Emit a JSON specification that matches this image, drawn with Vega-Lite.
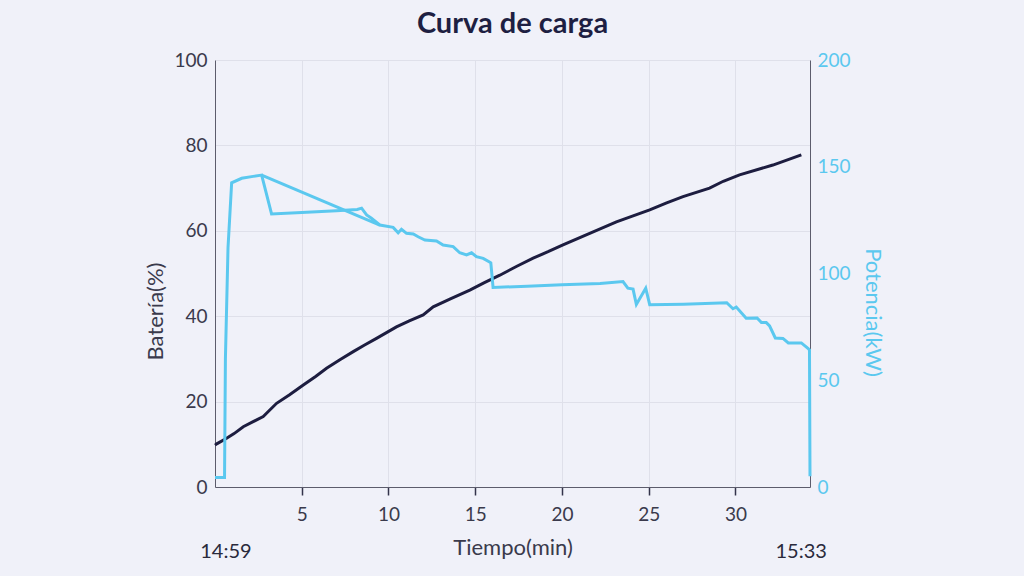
{
  "$schema": "https://vega.github.io/schema/vega-lite/v6.json",
  "width": 595,
  "height": 427,
  "autosize": "none",
  "padding": {"left": 215, "top": 60, "right": 214, "bottom": 89},
  "background": "#f0f1f9",
  "title": {"text": "Curva de carga", "font": "Lato", "fontSize": 29, "fontWeight": "bold", "color": "#1e1f42", "anchor": "middle", "baseline": "alphabetic", "offset": -11},
  "config": {
    "view": {"stroke": null},
    "axis": {"labelFont": "Lato", "titleFont": "Lato", "labelFontSize": 19, "titleFontSize": 22, "titleFontWeight": "normal", "gridColor": "#dfe0ea", "domainColor": "#5c5c6c", "labelColor": "#3a3a4c", "titleColor": "#3a3a4c"}
  },
  "datasets": {
    "bateria": [
      {"t": 0.0, "bateria": 9.8}, {"t": 0.1, "bateria": 10.1}, {"t": 0.67, "bateria": 11.4}, {"t": 1.1, "bateria": 12.5},
      {"t": 1.63, "bateria": 14.1}, {"t": 2.2, "bateria": 15.3}, {"t": 2.78, "bateria": 16.5}, {"t": 3.55, "bateria": 19.6},
      {"t": 4.3, "bateria": 21.6}, {"t": 5.09, "bateria": 23.9}, {"t": 5.8, "bateria": 25.9}, {"t": 6.43, "bateria": 27.8},
      {"t": 7.2, "bateria": 29.8}, {"t": 7.97, "bateria": 31.7}, {"t": 8.6, "bateria": 33.2}, {"t": 9.31, "bateria": 34.8},
      {"t": 10.46, "bateria": 37.5}, {"t": 11.2, "bateria": 38.9}, {"t": 12.0, "bateria": 40.3}, {"t": 12.58, "bateria": 42.2},
      {"t": 13.6, "bateria": 44.1}, {"t": 14.69, "bateria": 46.1}, {"t": 15.5, "bateria": 47.8}, {"t": 16.42, "bateria": 49.6},
      {"t": 17.4, "bateria": 51.7}, {"t": 18.34, "bateria": 53.6}, {"t": 19.2, "bateria": 55.1}, {"t": 20.06, "bateria": 56.7},
      {"t": 21.6, "bateria": 59.4}, {"t": 23.14, "bateria": 62.1}, {"t": 24.1, "bateria": 63.5}, {"t": 25.06, "bateria": 64.9},
      {"t": 26.0, "bateria": 66.5}, {"t": 26.98, "bateria": 68.0}, {"t": 28.51, "bateria": 70.0}, {"t": 29.3, "bateria": 71.6},
      {"t": 30.24, "bateria": 73.1}, {"t": 32.16, "bateria": 75.4}, {"t": 33.8, "bateria": 77.8}
    ],
    "potencia": [
      {"tramo": "a", "t": 0.0, "kw": 4.5}, {"tramo": "a", "t": 0.55, "kw": 4.5}, {"tramo": "a", "t": 0.6, "kw": 60},
      {"tramo": "a", "t": 0.75, "kw": 112}, {"tramo": "a", "t": 0.96, "kw": 142.5}, {"tramo": "a", "t": 1.54, "kw": 144.6},
      {"tramo": "a", "t": 2.2, "kw": 145.5}, {"tramo": "a", "t": 2.69, "kw": 146.1}, {"tramo": "a", "t": 3.26, "kw": 127.9},
      {"tramo": "a", "t": 5.0, "kw": 128.6}, {"tramo": "a", "t": 7.0, "kw": 129.4}, {"tramo": "a", "t": 8.2, "kw": 130.0},
      {"tramo": "a", "t": 8.45, "kw": 130.6}, {"tramo": "a", "t": 8.74, "kw": 127.4}, {"tramo": "a", "t": 9.0, "kw": 126.0},
      {"tramo": "a", "t": 9.5, "kw": 122.7}, {"tramo": "a", "t": 10.27, "kw": 121.6}, {"tramo": "a", "t": 10.56, "kw": 119.1},
      {"tramo": "a", "t": 10.75, "kw": 120.7}, {"tramo": "a", "t": 11.04, "kw": 118.8}, {"tramo": "a", "t": 11.43, "kw": 118.5},
      {"tramo": "a", "t": 11.71, "kw": 117.2}, {"tramo": "a", "t": 12.1, "kw": 115.7}, {"tramo": "a", "t": 12.77, "kw": 115.2},
      {"tramo": "a", "t": 13.15, "kw": 113.3}, {"tramo": "a", "t": 13.73, "kw": 112.6}, {"tramo": "a", "t": 14.11, "kw": 109.7},
      {"tramo": "a", "t": 14.5, "kw": 108.7}, {"tramo": "a", "t": 14.79, "kw": 109.7}, {"tramo": "a", "t": 15.07, "kw": 107.9},
      {"tramo": "a", "t": 15.46, "kw": 107.1}, {"tramo": "a", "t": 15.8, "kw": 105.5}, {"tramo": "a", "t": 15.9, "kw": 105.0},
      {"tramo": "a", "t": 16.03, "kw": 93.5}, {"tramo": "a", "t": 18.0, "kw": 94.0}, {"tramo": "a", "t": 20.0, "kw": 94.7},
      {"tramo": "a", "t": 22.2, "kw": 95.3}, {"tramo": "a", "t": 23.52, "kw": 96.2}, {"tramo": "a", "t": 23.8, "kw": 93.1},
      {"tramo": "a", "t": 24.1, "kw": 92.7}, {"tramo": "a", "t": 24.29, "kw": 85.5}, {"tramo": "a", "t": 24.83, "kw": 93.1},
      {"tramo": "a", "t": 25.06, "kw": 85.4}, {"tramo": "a", "t": 27.0, "kw": 85.6}, {"tramo": "a", "t": 29.5, "kw": 86.3},
      {"tramo": "a", "t": 29.86, "kw": 83.5}, {"tramo": "a", "t": 30.05, "kw": 84.3}, {"tramo": "a", "t": 30.62, "kw": 79.0},
      {"tramo": "a", "t": 31.25, "kw": 79.2}, {"tramo": "a", "t": 31.5, "kw": 77.0}, {"tramo": "a", "t": 31.78, "kw": 77.0},
      {"tramo": "a", "t": 31.97, "kw": 75.5}, {"tramo": "a", "t": 32.3, "kw": 69.8}, {"tramo": "a", "t": 32.74, "kw": 69.6},
      {"tramo": "a", "t": 33.05, "kw": 67.5}, {"tramo": "a", "t": 33.8, "kw": 67.5}, {"tramo": "a", "t": 34.18, "kw": 65.0},
      {"tramo": "a", "t": 34.27, "kw": 64.2}, {"tramo": "a", "t": 34.3, "kw": 5.0},
      {"tramo": "b", "t": 2.69, "kw": 146.1}, {"tramo": "b", "t": 9.5, "kw": 122.7}
    ]
  },
  "layer": [
    {
      "data": {"name": "bateria"},
      "mark": {"type": "line", "color": "#1d1d40", "strokeWidth": 3},
      "encoding": {
        "x": {"field": "t", "type": "quantitative", "scale": {"domain": [0, 34.3], "nice": false},
              "axis": {"values": [5, 10, 15, 20, 25, 30], "title": "Tiempo(min)", "tickSize": 8, "tickColor": "#33334a", "tickWidth": 1.5, "labelPadding": 10, "titlePadding": 13, "grid": true}},
        "y": {"field": "bateria", "type": "quantitative", "scale": {"domain": [0, 100], "nice": false},
              "axis": {"title": "Batería(%)", "values": [0, 20, 40, 60, 80, 100], "ticks": false, "labelPadding": 8, "titlePadding": 6, "titleY": 251, "grid": true}}
      }
    },
    {
      "data": {"name": "potencia"},
      "mark": {"type": "line", "color": "#5bc8ef", "strokeWidth": 3},
      "encoding": {
        "x": {"field": "t", "type": "quantitative", "scale": {"domain": [0, 34.3], "nice": false},
              "axis": {"orient": "bottom", "values": [0.6, 33.76], "labelExpr": "datum.value < 10 ? '14:59' : '15:33'", "domain": false, "ticks": false, "tickSize": 0, "grid": false, "title": null, "labelPadding": 54, "labelFontSize": 20, "labelColor": "#2a2a3c"}},
        "y": {"field": "kw", "type": "quantitative", "scale": {"domain": [0, 200], "nice": false},
              "axis": {"orient": "right", "title": "Potencia(kW)", "values": [0, 50, 100, 150, 200], "ticks": false, "grid": false, "labelPadding": 7, "titlePadding": 10, "titleY": 252, "labelColor": "#5bc8ef", "titleColor": "#5bc8ef"}},
        "detail": {"field": "tramo"}
      }
    }
  ],
  "resolve": {"scale": {"x": "independent", "y": "independent"}}
}
